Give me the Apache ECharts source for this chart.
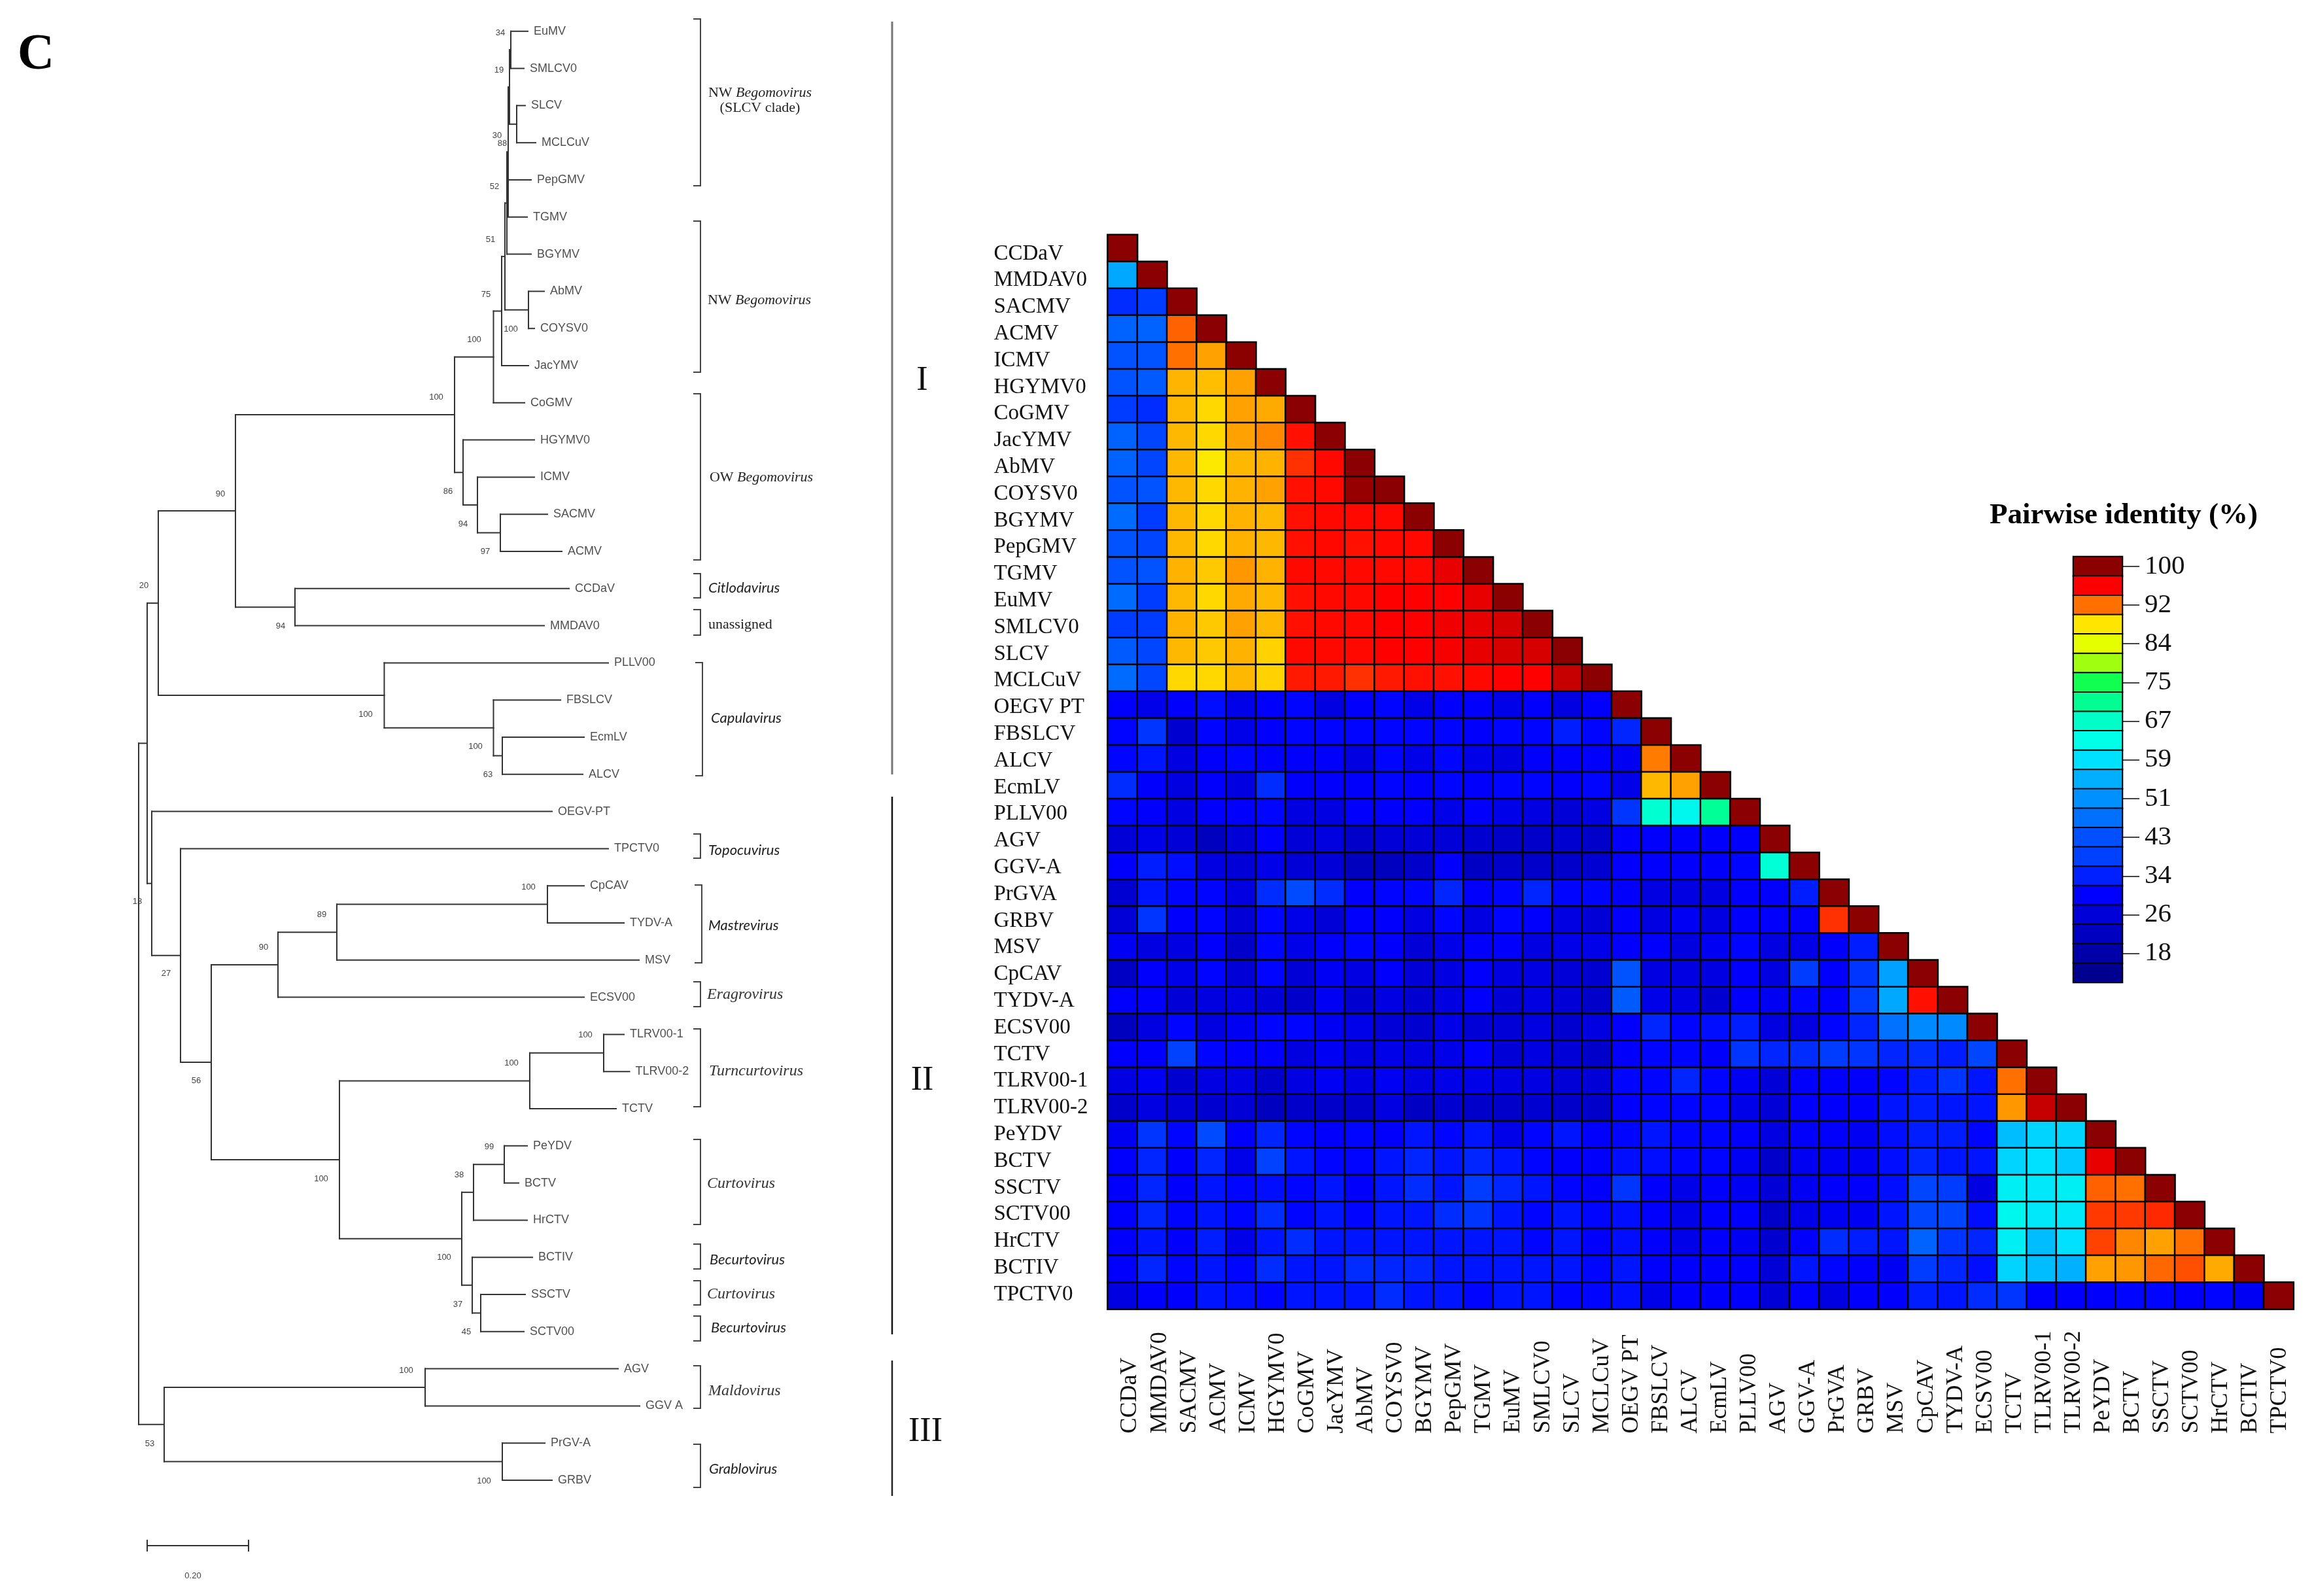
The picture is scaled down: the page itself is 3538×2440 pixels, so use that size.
<!DOCTYPE html>
<html><head><meta charset="utf-8">
<style>html,body{margin:0;padding:0;background:#fff}#c{width:3538px;height:2440px}</style>
<script src="https://cdn.jsdelivr.net/npm/echarts@6/dist/echarts.min.js"></script>
</head><body><div id="c"></div>
<script>
const categories = ['CCDaV','MMDAV0','SACMV','ACMV','ICMV','HGYMV0','CoGMV','JacYMV','AbMV','COYSV0','BGYMV','PepGMV','TGMV','EuMV','SMLCV0','SLCV','MCLCuV','OEGV PT','FBSLCV','ALCV','EcmLV','PLLV00','AGV','GGV-A','PrGVA','GRBV','MSV','CpCAV','TYDV-A','ECSV00','TCTV','TLRV00-1','TLRV00-2','PeYDV','BCTV','SSCTV','SCTV00','HrCTV','BCTIV','TPCTV0'];
const identity = [
[100],
[54,100],
[36,38,100],
[45,45,92.3,100],
[43,43,91.8,90.1,100],
[43,44,89.4,89.1,90.1,100],
[38,36,89.3,88.2,90.1,89.8,100],
[45,40,89.3,88.2,90.1,91,95.3,100],
[45,40,89.3,87.4,89.3,89.5,94.1,95.6,100],
[43,43,89.3,88.2,89.5,90.1,95.3,95.6,99.6,100],
[46,38,89.3,88.2,89.5,89.3,95.3,95.6,95.6,95.6,100],
[43,40,89.3,88.2,89.5,89.3,95.3,95.6,95.3,95.6,95.6,100],
[43,43,89.5,88.7,90.4,89.5,95.6,95.6,95.6,95.6,95.6,96.7,100],
[46,38,89.3,88.2,89.8,89.3,95.3,95.6,95.6,95.9,95.9,95.9,96.7,100],
[38,38,89.5,88.7,90.1,89.3,95.3,95.6,95.6,95.9,95.9,96.4,96.7,97.3,100],
[44,40,89.3,88.7,89.5,88.4,95.6,95.6,95.6,95.9,95.9,96.2,96.7,97.3,97.3,100],
[46,40,88.2,88.2,89.3,88.4,95,95,94.1,95,95.3,95.3,95.6,95.9,95.9,97.9,100],
[30,28,30,32,28,30,31,27,30,31,28,30,30,28,30,27,30,100],
[31,37,25,31,28,30,31,31,31,31,31,31,30,31,31,34,31,35,100],
[31,33,27,30,31,30,30,30,27,31,28,31,28,27,30,30,30,29,91.4,100],
[36,30,27,30,27,36,30,30,30,31,30,31,30,31,31,30,31,28,89.3,90.1,100],
[31,30,27,30,30,31,27,27,30,30,30,28,30,28,27,26,27,37,66,62,70.8,100],
[26,28,26,22,26,30,26,27,24,26,26,26,25,24,24,25,24,30,30,30,30,30,100],
[30,34,32,27,26,28,26,26,22,22,24,30,23,24,24,24,25,30,30,30,30,31,65.5,100],
[25,33,31,31,27,36,41,36,30,31,31,35,30,31,35,31,31,30,27,27,27,30,30,34,100],
[26,37,30,31,26,31,28,26,30,30,27,31,27,31,30,27,26,30,27,29,27,30,30,30,94.1,100],
[29,27,27,30,24,31,28,30,31,30,26,28,30,30,27,28,28,30,30,27,29,31,27,28,30,34,100],
[23,30,28,31,26,31,26,29,27,30,26,27,30,27,27,26,25,43,27,27,27,30,27,38,30,37,53,100],
[30,30,26,27,27,26,24,29,25,27,25,27,30,26,27,26,24,44,28,27,25,30,29,31,30,38,54,95.3,100],
[22,27,31,27,29,31,31,29,28,26,25,28,26,26,27,25,27,30,35,31,32,34,27,27,31,35,47,50,50,100],
[30,30,39,31,30,30,27,29,27,28,27,28,30,26,27,26,24,30,31,31,30,37,35,36,38,37,35,36,34,40,100],
[27,29,25,27,27,24,27,29,27,29,27,28,28,27,27,26,26,31,31,35,31,29,26,30,30,30,31,34,37,33,91.8,100],
[24,27,26,25,26,22,24,24,24,27,23,25,24,24,25,24,24,30,31,31,31,28,26,30,30,30,33,34,33,33,90.4,97.9,100],
[29,37,31,41,30,35,31,30,31,30,33,31,33,28,31,33,30,31,33,31,31,30,27,30,30,29,32,34,34,31,56,58,58,100],
[30,35,30,35,28,39,33,31,31,33,35,33,35,33,31,30,30,32,32,31,31,29,24,29,29,29,32,35,33,33,58,59,57,96.7,100],
[30,35,30,33,31,32,31,33,30,33,36,33,38,35,33,31,30,37,30,28,30,29,26,29,30,30,32,40,38,27,61,60,61,92.4,91.8,100],
[30,35,31,33,31,36,31,33,31,33,33,36,37,33,31,33,31,32,30,28,30,30,24,28,29,29,33,40,40,32,62,60,60,93.8,93.8,94.4,100],
[30,33,30,34,28,33,36,33,33,33,33,33,33,33,31,33,30,32,30,28,30,29,25,30,36,34,33,45,37,35,61,56,59,93.5,91,90.1,91.8,100],
[30,35,31,33,31,36,33,33,36,35,35,33,33,33,33,33,31,33,30,30,30,30,26,33,31,30,29,38,35,32,58,56,55,90.1,90.4,92.1,93,89.8,100],
[27,30,30,33,32,31,33,33,33,36,33,33,31,33,33,31,31,32,28,30,30,30,26,30,27,30,30,34,33,36,37,30,30,30,31,31,30,31,29,100]
];
const legendTicks = [100,92,84,75,67,59,51,43,34,26,18];
const legendBands = [100,95.9,91.8,87.7,83.6,79.5,75.4,71.3,67.2,63.1,59,54.9,50.8,46.7,42.6,38.5,34.4,30.3,26.2,22.1,18,13.9];
const bandColors = ['#8b0000','#ff0000','#ff7000','#ffe600','#e6ff00','#a0ff10','#10ff50','#00ff90','#00ffc8','#00ffe8','#00e0ff','#00b0ff','#0090ff','#0070ff','#0050ff','#0040ff','#0020ff','#0000ff','#0000d8','#0000c0','#0000a8','#000090'];

// phylogeny: each internal node is [depth, ...children]; a bare number is a leaf tip depth
const leafNames = ['EuMV','SMLCV0','SLCV','MCLCuV','PepGMV','TGMV','BGYMV','AbMV','COYSV0','JacYMV','CoGMV','HGYMV0','ICMV','SACMV','ACMV','CCDaV','MMDAV0','PLLV00','FBSLCV','EcmLV','ALCV','OEGV-PT','TPCTV0','CpCAV','TYDV-A','MSV','ECSV00','TLRV00-1','TLRV00-2','TCTV','PeYDV','BCTV','HrCTV','BCTIV','SSCTV','SCTV00','AGV','GGV A','PrGV-A','GRBV'];
const tree = [0,
 [13,
  [30,
   [148,
    [483,
     [542.5,
      [555,
       [560,
        [563,
         [565,
          [567,[569,595,589],[578,591,607]],
          600,594],
         600],
        [596,620,605]],
       596],
      590],
     [496,605,[518,605,[553,625,647]]]],
    [239,658,620]],
   [375.5,718,[542.5,645,[556,681,679]]]],
  [20,632,
   [64,718,
    [111,
     [213,[303,[625,681,742],765],681],
     [307,
      [598,[711,742,750.5],730],
      [494,
       [512,[559,594,581],594],
       [510,602,[523,591,589]]]]]]]],
 [39,[438,733,766],[556,621,632]]
];
const scaleBarDepth = [13,168];
const scaleBarRank = 40.76;

// annotations: [text, x, y]
const supportLabels = [['34',765,50],['19',763,107],['30',760,207],['88',768,219],['52',756,285],['51',750,366],['75',743,450],['100',781,503],['100',725,519],['100',667,607],['90',337,755],['86',685,751],['94',708,801],['97',742,843],['20',220,895],['94',429,957],['100',559,1092],['100',727,1141],['63',746,1184],['100',808,1356],['89',492,1398],['90',403,1448],['13',210,1378],['27',254,1488],['56',300,1652],['100',895,1582],['100',782,1625],['99',748,1753],['38',702,1796],['100',491,1802],['100',679,1922],['37',700,1994],['45',713,2036],['100',621,2095],['53',229,2207],['100',740,2264],['0.20',295,2409]];
const brackets = [[29,284,1071],[338,569,1071],[602,856,1071],[877,914,1071],[932,971,1071],[1013,1186,1074],[1275,1312,1071],[1353,1472,1073],[1501,1539,1071],[1573,1692,1071],[1742,1872,1071],[1902,1940,1071],[1958,1995,1071],[2012,2050,1071],[2088,2153,1071],[2208,2274,1071]];
const sansClades = [['Citlodavirus',1083,899],['Capulavirus',1087,1098],['Topocuvirus',1083,1300],['Mastrevirus',1083,1415],['Becurtovirus',1085,1926],['Becurtovirus',1087,2030],['Grablovirus',1084,2246]];
const serifClades = [['Eragrovirus',1081,1521],['Turncurtovirus',1084,1638],['Curtovirus',1081,1810],['Curtovirus',1081,1979],['Maldovirus',1083,2127]];
const dividers = [[33,1184,'#777',3],[1218,2040,'#111',2.5],[2080,2287,'#222',2.5]];
const romans = [['I',1410,582],['II',1410,1652],['III',1415,2189]];

// ---- derived
const heatData = [];
identity.forEach((row,r)=>row.forEach((v,c)=>heatData.push([c,r,v])));
const legendCats = legendBands.map((b,i)=> i%2===0 ? String(legendTicks[i/2]) : ' '+i);
const legendData = legendBands.map((b,i)=>[0,i,b]);

const segs=[], tips=[]; let leafIdx=0;
function walk(n){
  if(typeof n==='number'){ const r=leafIdx; tips.push({name:leafNames[leafIdx],value:[n,r]}); leafIdx++; return {d:n,r}; }
  const d=n[0]; const kids=n.slice(1).map(walk);
  const r=(kids[0].r+kids[kids.length-1].r)/2;
  kids.forEach(k=>segs.push([d,k.r,k.d,k.r]));
  segs.push([d,kids[0].r,d,kids[kids.length-1].r]);
  return {d,r};
}
walk(tree);
segs.push([scaleBarDepth[0],scaleBarRank,scaleBarDepth[1],scaleBarRank]);
scaleBarDepth.forEach(d=>segs.push([d,scaleBarRank-0.14,d,scaleBarRank+0.14]));

const gfx=[];
const SERIF='"Liberation Serif"', SANS='"Liberation Sans"';
supportLabels.forEach(([t,x,y])=>gfx.push({type:'text',x,y,silent:true,style:{text:t,font:`13px ${SANS}`,fill:'#444',align:'center',verticalAlign:'middle'}}));
brackets.forEach(([a,b,x])=>gfx.push({type:'polyline',silent:true,shape:{points:[[x-11,a],[x,a],[x,b],[x-11,b]]},style:{stroke:'#444',lineWidth:2,fill:null}}));
sansClades.forEach(([t,x,y])=>gfx.push({type:'text',x,y,silent:true,style:{text:t,font:`italic 22px Lato`,fill:'#222',align:'left',verticalAlign:'middle'}}));
serifClades.forEach(([t,x,y])=>gfx.push({type:'text',x,y,silent:true,style:{text:t,font:`italic 24px ${SERIF}`,fill:'#333',align:'left',verticalAlign:'middle'}}));
const cl=(t,x,y)=>gfx.push({type:'text',x,y,silent:true,style:{text:t,fontFamily:'Liberation Serif',fontSize:22,fill:'#222',align:'center',verticalAlign:'middle',rich:{i:{fontStyle:'italic',fontFamily:'Liberation Serif',fontSize:22,fill:'#222'}}}});
cl('NW {i|Begomovirus}',1162,142); cl('(SLCV clade)',1162,165); cl('NW {i|Begomovirus}',1161,459); cl('OW {i|Begomovirus}',1164,730);
gfx.push({type:'text',x:1083,y:955,silent:true,style:{text:'unassigned',font:`22px ${SERIF}`,fill:'#222',align:'left',verticalAlign:'middle'}});
dividers.forEach(([a,b,c,w])=>gfx.push({type:'line',silent:true,shape:{x1:1364,y1:a,x2:1364,y2:b},style:{stroke:c,lineWidth:w}}));
romans.forEach(([t,x,y])=>gfx.push({type:'text',x,y,silent:true,style:{text:t,font:`52px ${SERIF}`,fill:'#111',align:'center',verticalAlign:'middle'}}));
gfx.push({type:'text',x:55,y:85,silent:true,style:{text:'C',font:`bold 78px ${SERIF}`,fill:'#000',align:'center',verticalAlign:'middle'}});

const chart=echarts.init(document.getElementById('c'),null,{renderer:'canvas'});
chart.setOption({
  animation:false,
  backgroundColor:'#fff',
  title:{text:'Pairwise identity (%)',left:3042,top:766,padding:0,textStyle:{fontFamily:'Liberation Serif',fontWeight:'bold',fontSize:45,color:'#000'}},
  grid:[
    {left:1693.6,top:358.9,width:1813,height:1642.6},
    {left:1705.5,top:367.6,width:1803,height:1632},
    {left:3170,top:851,width:75,height:651},
    {left:0,top:47.8,width:1400,height:2385.6}
  ],
  xAxis:[
    {type:'category',gridIndex:0,data:categories,show:false},
    {type:'category',gridIndex:1,data:categories,axisLine:{show:false},axisTick:{show:false},splitLine:{show:false},
     axisLabel:{interval:0,rotate:90,align:'left',verticalAlign:'middle',margin:192,fontFamily:'Liberation Serif',fontSize:36,color:'#111'}},
    {type:'category',gridIndex:2,data:[''],show:false},
    {type:'value',gridIndex:3,min:-212,max:1188,show:false}
  ],
  yAxis:[
    {type:'category',gridIndex:0,data:categories,inverse:true,show:false},
    {type:'category',gridIndex:1,data:categories,inverse:true,axisLine:{show:false},axisTick:{show:false},splitLine:{show:false},
     axisLabel:{interval:0,align:'left',margin:186,fontFamily:'Liberation Serif',fontSize:33,color:'#111'}},
    {type:'category',gridIndex:2,data:legendCats,inverse:true,position:'right',axisLine:{show:false},splitLine:{show:false},
     axisTick:{show:true,alignWithLabel:true,length:26,interval:(i)=>i%2===0,lineStyle:{color:'#444',width:2}},
     axisLabel:{interval:0,align:'left',margin:34,fontFamily:'Liberation Serif',fontSize:41,color:'#111',formatter:(v)=>v.trim().length>0&&v[0]!==' '?v:''}},
    {type:'value',gridIndex:3,min:0,max:42,inverse:true,show:false}
  ],
  visualMap:{show:false,type:'continuous',seriesIndex:[0,1],dimension:2,min:13.9,max:100,inRange:{color:bandColors.slice().reverse()}},
  series:[
    {type:'heatmap',xAxisIndex:0,yAxisIndex:0,data:heatData,itemStyle:{borderColor:'#000',borderWidth:2.5},emphasis:{disabled:true}},
    {type:'heatmap',xAxisIndex:2,yAxisIndex:2,data:legendData,itemStyle:{borderColor:'#000',borderWidth:2},emphasis:{disabled:true}},
    {type:'custom',xAxisIndex:3,yAxisIndex:3,data:segs,silent:true,clip:false,
     encode:{x:[0,2],y:[1,3]},
     renderItem:(p,api)=>{const a=api.coord([api.value(0),api.value(1)]),b=api.coord([api.value(2),api.value(3)]);
       return {type:'line',shape:{x1:a[0],y1:a[1],x2:b[0],y2:b[1]},style:{stroke:'#333',lineWidth:2,lineCap:'square'}};}},
    {type:'scatter',xAxisIndex:3,yAxisIndex:3,data:tips,symbolSize:0,silent:true,
     label:{show:true,position:'right',distance:9,formatter:'{b}',fontFamily:'Liberation Sans',fontSize:18,color:'#222'}}
  ],
  graphic:gfx
});
</script></body></html>
